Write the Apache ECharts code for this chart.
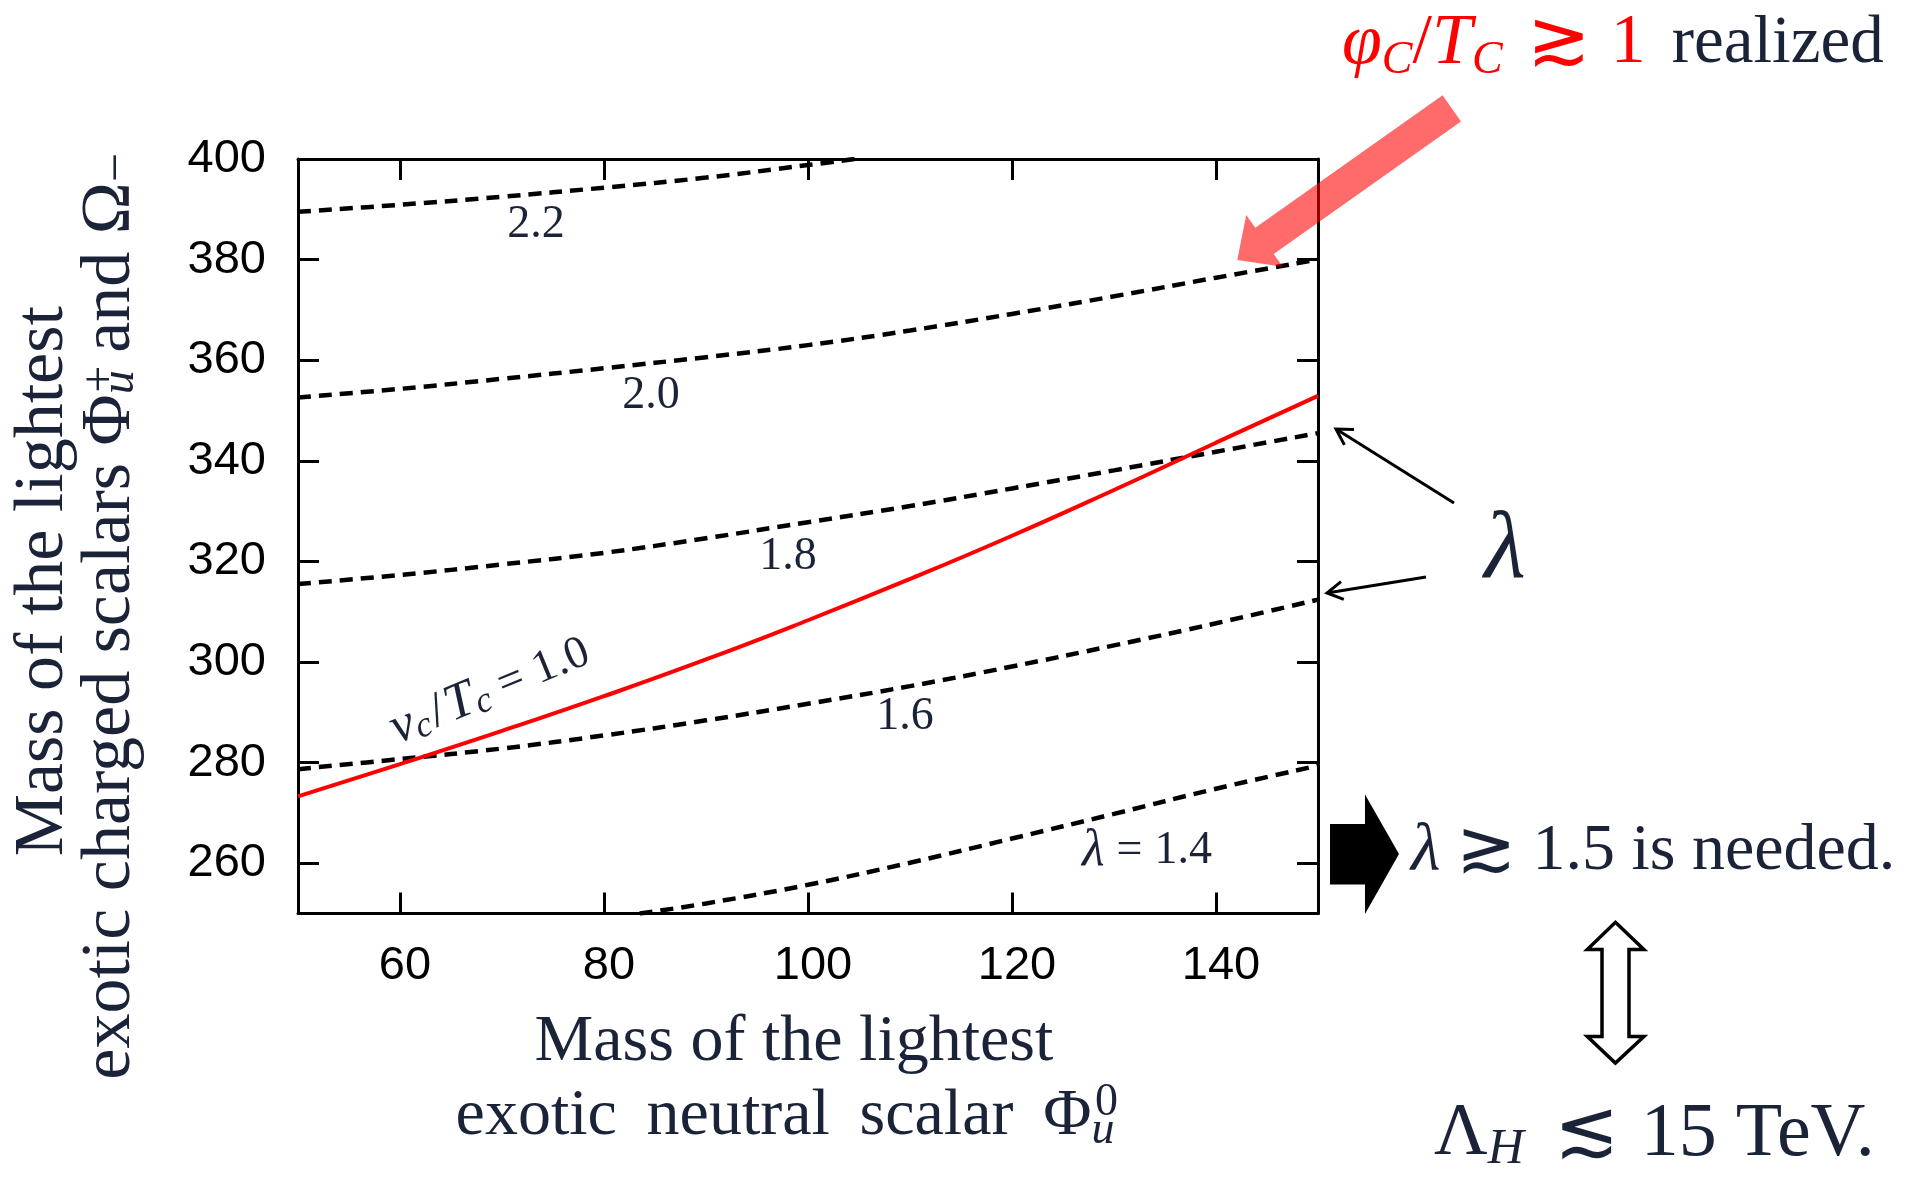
<!DOCTYPE html>
<html>
<head>
<meta charset="utf-8">
<script src="https://cdn.jsdelivr.net/npm/echarts@6/dist/echarts.min.js"></script>
<style>
html,body{margin:0;padding:0;background:#fff;}
#chart{width:1907px;height:1181px;}
</style>
</head>
<body>
<div id="chart"></div>
<script>
// ---- data ----
const xTicks = [60, 80, 100, 120, 140];
const yTicks = [260, 280, 300, 320, 340, 360, 380, 400];

const xGrid = [50, 60, 70, 80, 90, 100, 110, 120, 130, 140, 150];
const lam22X = [50, 60, 70, 80, 90, 100, 105];
const lam22Y = [389.5, 390.9, 392.5, 394.3, 396.3, 398.8, 400.1];
const lam20Y = [352.6, 354.3, 356.3, 358.4, 360.6, 363.0, 365.9, 369.2, 372.7, 376.4, 380.0];
const lam18Y = [315.5, 317.3, 319.4, 321.7, 324.6, 327.8, 331.0, 334.5, 338.1, 341.8, 345.5];
const lam16Y = [278.7, 280.7, 282.8, 285.4, 288.4, 291.7, 295.2, 299.1, 303.3, 307.7, 312.4];
const lam14X = [83.5, 90, 100, 110, 120, 130, 140, 150];
const lam14Y = [250.0, 252.0, 255.7, 260.1, 264.9, 269.8, 274.8, 279.4];
const vcTcY  = [273.3, 279.7, 286.3, 293.2, 300.5, 308.3, 316.5, 325.1, 334.2, 343.6, 352.9];

const pairs = (xs, ys) => xs.map((x, i) => [x, ys[i]]);

// ---- styles ----
const SERIF = '"Liberation Serif", "DejaVu Serif", serif';
const SANS = '"Liberation Sans", Arial, sans-serif';
const REL = '"DejaVu Sans", "DejaVu Serif", sans-serif';
const INK = '#1b2338';

const dashStyle = { color: '#000', width: 4.5, type: [13, 8] };

function dashed(name, data) {
  return {
    type: 'line', name: name, data: data, showSymbol: false, smooth: 0.4,
    lineStyle: dashStyle, silent: true, clip: true, z: 3
  };
}

const chart = echarts.init(document.getElementById('chart'), null, { renderer: 'canvas' });

const axisLineStyle = { color: '#000', width: 3 };
const tickStyle = { color: '#000', width: 3 };
const TS = '\u2009';

const option = {
  animation: false,
  backgroundColor: '#fff',
  grid: { left: 298, right: 589, top: 159, bottom: 267.5, outerBoundsMode: 'none', containLabel: false },
  xAxis: [
    {
      type: 'value', min: 50, max: 150, position: 'bottom',
      axisLine: { show: true, onZero: false, lineStyle: axisLineStyle },
      axisTick: { show: true, inside: true, length: 21, lineStyle: tickStyle, customValues: xTicks },
      axisLabel: { show: true, customValues: xTicks, margin: 29, fontFamily: SANS, fontSize: 47, color: '#000', padding: [0, 0, 0, 10] },
      splitLine: { show: false },
      name: '{t|Mass of the lightest}\n{t|exotic ' + TS + 'neutral ' + TS + 'scalar ' + TS + 'Φ}{sup|0}{sub|u}{sp| }',
      nameLocation: 'middle', nameGap: 92, nameMoveOverlap: false,
      nameTextStyle: {
        fontFamily: SERIF, fontSize: 66, color: INK, lineHeight: 74, padding: [0, 28, 0, 0],
        rich: {
          t: { fontFamily: SERIF, fontSize: 66, color: INK, lineHeight: 74 },
          sup: { fontFamily: SERIF, fontSize: 46, color: INK, lineHeight: 46, verticalAlign: 'top', width: 0, padding: [0, -15, 0, 15] },
          sub: { fontFamily: SERIF, fontSize: 46, fontStyle: 'italic', color: INK, lineHeight: 36, verticalAlign: 'bottom' },
          sp: { fontFamily: SERIF, fontSize: 20, width: 18 }
        }
      }
    },
    {
      type: 'value', min: 50, max: 150, position: 'top',
      axisLine: { show: true, onZero: false, lineStyle: axisLineStyle },
      axisTick: { show: true, inside: true, length: 21, lineStyle: tickStyle, customValues: xTicks },
      axisLabel: { show: false },
      splitLine: { show: false }
    }
  ],
  yAxis: [
    {
      type: 'value', min: 250, max: 400, position: 'left',
      axisLine: { show: true, onZero: false, lineStyle: axisLineStyle },
      axisTick: { show: true, inside: true, length: 21, lineStyle: tickStyle, customValues: yTicks },
      axisLabel: { show: true, customValues: yTicks, margin: 32, fontFamily: SANS, fontSize: 47, color: '#000' },
      splitLine: { show: false },
      name: '{t|Mass of the lightest}\n{t|exotic charged scalars Φ}{sup|+}{sub|u}{t| and Ω}{subm|−}{sp| }',
      nameLocation: 'middle', nameGap: 154, nameMoveOverlap: false,
      nameTextStyle: {
        fontFamily: SERIF, fontSize: 70, color: INK, lineHeight: 67, padding: [0, 90, 0, 0],
        rich: {
          t: { fontFamily: SERIF, fontSize: 70, color: INK, lineHeight: 67 },
          sup: { fontFamily: SERIF, fontSize: 48, color: INK, lineHeight: 44, verticalAlign: 'top', width: 0, padding: [0, -15, 0, 15] },
          sub: { fontFamily: SERIF, fontSize: 48, fontStyle: 'italic', color: INK, lineHeight: 34, verticalAlign: 'bottom' },
          subm: { fontFamily: SERIF, fontSize: 52, color: INK, lineHeight: 40, verticalAlign: 'bottom' },
          sp: { fontFamily: SERIF, fontSize: 20, width: 70 }
        }
      }
    },
    {
      type: 'value', min: 250, max: 400, position: 'right',
      axisLine: { show: true, onZero: false, lineStyle: axisLineStyle },
      axisTick: { show: true, inside: true, length: 21, lineStyle: tickStyle, customValues: yTicks },
      axisLabel: { show: false },
      splitLine: { show: false }
    }
  ],
  series: [
    dashed('λ = 2.2', pairs(lam22X, lam22Y)),
    dashed('λ = 2.0', pairs(xGrid, lam20Y)),
    dashed('λ = 1.8', pairs(xGrid, lam18Y)),
    dashed('λ = 1.6', pairs(xGrid, lam16Y)),
    dashed('λ = 1.4', pairs(lam14X, lam14Y)),
    {
      type: 'line', name: 'v_c/T_c = 1.0', data: pairs(xGrid, vcTcY), showSymbol: false, smooth: 0.5,
      lineStyle: { color: '#ff0000', width: 4 }, silent: true, clip: true, z: 4
    }
  ],
  graphic: { elements: [] }
};

// ---- annotation texts and shapes ----
const lblStyle = (text, rich) => ({
  text: text, rich: rich || {}, fontFamily: SERIF, fontSize: 46, fill: INK,
  align: 'center', verticalAlign: 'middle'
});
const lblRich = {
  t: { fontFamily: SERIF, fontSize: 46, fill: INK },
  i: { fontFamily: SERIF, fontSize: 52, fontStyle: 'italic', fill: INK },
  s: { fontFamily: SERIF, fontSize: 36, fontStyle: 'italic', fill: INK, lineHeight: 32, verticalAlign: 'bottom' },
  sl: { fontFamily: SERIF, fontSize: 50, fill: INK, padding: [0, 3, 0, 3] },
  eq: { fontFamily: SERIF, fontSize: 46, fill: INK, padding: [0, 12, 0, 12] }
};

const G = option.graphic.elements;
G.push({ type: 'text', x: 536, y: 225, z: 50, style: lblStyle('2.2') });
G.push({ type: 'text', x: 651, y: 396, z: 50, style: lblStyle('2.0') });
G.push({ type: 'text', x: 788, y: 557, z: 50, style: lblStyle('1.8') });
G.push({ type: 'text', x: 905, y: 717, z: 50, style: lblStyle('1.6') });
G.push({ type: 'text', x: 1147, y: 851, z: 50, style: lblStyle('{i|λ}{eq|=}{t|1.4}', lblRich) });
G.push({ type: 'text', x: 490, y: 691, rotation: 0.39, z: 50,
  style: lblStyle('{i|v}{s|c}{sl|/}{i|T}{s|c}{eq|=}{t|1.0}', lblRich) });

// top caption
G.push({ type: 'text', x: 1342, y: 44, z: 60, style: {
  text: '{ri|φ}{rs|C}{r|/}{ri|T}{rs|C}{rel|≳}{r|1}{k|realized}',
  align: 'left', verticalAlign: 'middle', fontFamily: SERIF, fontSize: 66,
  rich: {
    ri: { fontFamily: SERIF, fontSize: 72, fontStyle: 'italic', fill: '#ff0000', lineHeight: 80 },
    rs: { fontFamily: SERIF, fontSize: 46, fontStyle: 'italic', fill: '#ff0000', lineHeight: 40, verticalAlign: 'bottom' },
    r: { fontFamily: SERIF, fontSize: 70, fill: '#ff0000', lineHeight: 80 },
    rel: { fontFamily: REL, fontWeight: 200, fontSize: 76, fill: '#ff0000', lineHeight: 80, padding: [0, 20, 0, 24] },
    k: { fontFamily: SERIF, fontSize: 67, fill: INK, lineHeight: 80, padding: [0, 0, 0, 26] }
  }
} });

// big red arrow (semi-transparent)
G.push({ type: 'polygon', z: 100, shape: { points: [
  [1442.6, 95.2], [1255.3, 227.7], [1246.2, 214.9], [1237.3, 260.0],
  [1282.8, 266.7], [1273.7, 253.9], [1461.0, 121.4]
] }, style: { fill: 'rgba(255,0,0,0.58)' } });

// thin black arrows pointing to the curves
G.push({ type: 'polyline', z: 60, shape: { points: [[1454, 503], [1336, 429]] }, style: { stroke: '#000', lineWidth: 3, fill: null } });
G.push({ type: 'polyline', z: 60, shape: { points: [[1344.4, 444.9], [1336, 429], [1354, 429.6]] }, style: { stroke: '#000', lineWidth: 3, fill: null } });
G.push({ type: 'polyline', z: 60, shape: { points: [[1426, 577], [1327, 593]] }, style: { stroke: '#000', lineWidth: 3, fill: null } });
G.push({ type: 'polyline', z: 60, shape: { points: [[1343.8, 599.4], [1327, 593], [1341, 581.6]] }, style: { stroke: '#000', lineWidth: 3, fill: null } });

// big lambda
G.push({ type: 'text', x: 1505, y: 552, z: 60, style: {
  text: 'λ', fontFamily: SERIF, fontSize: 96, fontStyle: 'italic', fill: INK, align: 'center', verticalAlign: 'middle'
} });

// filled block arrow
G.push({ type: 'polygon', z: 60, shape: { points: [
  [1330, 824], [1365, 824], [1365, 794.5], [1399, 854], [1365, 914], [1365, 884.5], [1330, 884.5]
] }, style: { fill: '#000' } });

G.push({ type: 'text', x: 1411, y: 852, z: 60, style: {
  text: '{i|λ}{rel|≳}{t|1.5 is needed.}', align: 'left', verticalAlign: 'middle', fontFamily: SERIF, fontSize: 66,
  rich: {
    i: { fontFamily: SERIF, fontSize: 68, fontStyle: 'italic', fill: INK },
    rel: { fontFamily: REL, fontWeight: 200, fontSize: 72, fill: INK, padding: [0, 16, 0, 16] },
    t: { fontFamily: SERIF, fontSize: 66, fill: INK }
  }
} });

// hollow double arrow
G.push({ type: 'polygon', z: 60, shape: { points: [
  [1615.4, 922.3], [1643.9, 949.4], [1629, 949.4], [1629, 1036.5], [1643.9, 1036.5],
  [1615.4, 1063.1], [1587.3, 1036.5], [1602, 1036.5], [1602, 949.4], [1587.3, 949.4]
] }, style: { fill: '#fff', stroke: '#000', lineWidth: 3.5, lineJoin: 'miter' } });

G.push({ type: 'text', x: 1434, y: 1135, z: 60, style: {
  text: '{t|Λ}{s|H}{rel|≲}{u|15 TeV.}', align: 'left', verticalAlign: 'middle', fontFamily: SERIF, fontSize: 74,
  rich: {
    t: { fontFamily: SERIF, fontSize: 74, fill: INK, lineHeight: 80 },
    s: { fontFamily: SERIF, fontSize: 50, fontStyle: 'italic', fill: INK, lineHeight: 44, verticalAlign: 'bottom' },
    rel: { fontFamily: REL, fontWeight: 200, fontSize: 78, fill: INK, lineHeight: 80, padding: [0, 22, 0, 30] },
    u: { fontFamily: SERIF, fontSize: 76, fill: INK, lineHeight: 80 }
  }
} });

chart.setOption(option);
</script>
</body>
</html>
